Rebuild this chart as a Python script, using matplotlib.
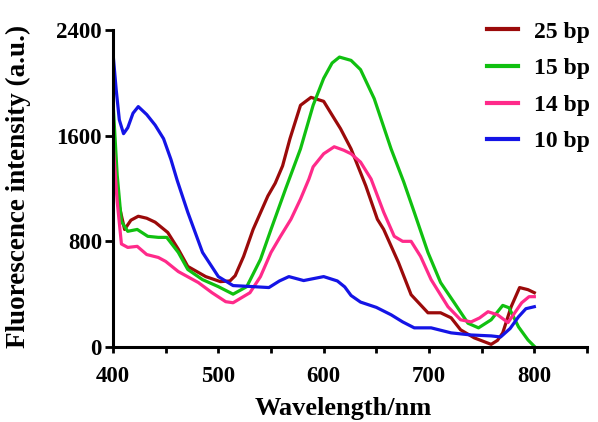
import matplotlib
matplotlib.use("Agg")
import matplotlib.pyplot as plt
from matplotlib.ticker import MultipleLocator

plt.rcParams['font.family'] = ['Liberation Serif', 'DejaVu Serif']
plt.rcParams['font.weight'] = 'bold'

# 25 bp
wl_25 = [400, 405, 411, 417, 424, 432, 440, 452, 462, 471, 488, 502, 511, 516, 524, 533, 547, 554,
         561, 568, 578, 588, 600, 610, 616, 626, 640, 651, 657, 671, 683, 699, 711, 721, 730, 743,
         759, 765, 770, 778, 786, 794, 800]
i_25 = [1450, 1100, 890, 960, 990, 975, 945, 867, 740, 610, 533, 495, 500, 540, 686, 890, 1143, 1240,
        1371, 1577, 1830, 1890, 1860, 1730, 1653, 1500, 1220, 967, 890, 640, 396, 259, 259, 221, 130, 69,
        20, 50, 107, 305, 450, 434, 411]

# 15 bp
wl_15 = [400, 404, 408, 414, 423, 433, 443, 451, 462, 471, 485, 500, 514, 527, 540, 550, 564, 578,
         590, 600, 608, 615, 626, 635, 648, 664, 676, 686, 699, 711, 724, 737, 747, 759, 770, 776,
         785, 794, 800]
i_15 = [1855, 1300, 950, 876, 890, 838, 830, 830, 716, 587, 510, 457, 400, 457, 663, 890, 1200, 1500,
        1830, 2034, 2150, 2195, 2170, 2100, 1880, 1500, 1250, 1020, 716, 488, 335, 180, 145, 206, 315, 297,
        152, 53, 5]

# 14 bp
wl_14 = [400, 404, 408, 414, 423, 432, 443, 450, 462, 481, 494, 507, 514, 530, 540, 550, 559, 569,
         578, 586, 590, 600, 610, 619, 626, 635, 645, 657, 667, 675, 683, 692, 702, 718, 730, 740,
         748, 756, 765, 775, 788, 795, 800]
i_14 = [1550, 1100, 780, 754, 762, 700, 678, 648, 571, 488, 411, 343, 335, 411, 533, 716, 838, 968,
        1120, 1272, 1364, 1463, 1516, 1490, 1463, 1400, 1272, 1020, 838, 800, 800, 686, 510, 305, 206, 190,
        220, 267, 244, 185, 335, 381, 381]

# 10 bp
wl_10 = [400, 403, 406, 410, 414, 419, 424, 432, 440, 448, 455, 461, 471, 485, 500, 514, 533, 548,
         558, 567, 581, 600, 613, 620, 626, 635, 650, 664, 675, 686, 702, 721, 740, 759, 768, 777,
         785, 792, 800]
i_10 = [2225, 1950, 1720, 1615, 1660, 1770, 1820, 1760, 1680, 1577, 1420, 1260, 1020, 716, 533, 465, 457, 450,
        500, 533, 503, 533, 500, 455, 390, 340, 300, 244, 190, 145, 145, 107, 91, 84, 76, 140,
        229, 290, 305]

labels = ["25 bp", "15 bp", "14 bp", "10 bp"]
colors = ["#9b0a0a", "#10c010", "#ff2a8a", "#1414e6"]
xticks = [400, 500, 600, 700, 800]
yticks = [0, 800, 1600, 2400]

fig = plt.figure(figsize=(5.98, 4.22), dpi=100)
ax = fig.add_axes([113/598, 1 - 347/422, (587 - 113)/598, (347 - 30)/422])

for wl, it, lab, c in zip([wl_25, wl_15, wl_14, wl_10], [i_25, i_15, i_14, i_10], labels, colors):
    ax.plot(wl, it, color=c, lw=2.3, label=lab, solid_joinstyle='round')

ax.set_xlim(400, 850)
ax.set_ylim(0, 2400)
ax.set_xticks(xticks)
ax.xaxis.set_minor_locator(MultipleLocator(50))
ax.set_yticks(yticks)

for s in ['top', 'right']:
    ax.spines[s].set_visible(False)
for s in ['left', 'bottom']:
    ax.spines[s].set_linewidth(2.2)

ax.tick_params(axis='both', which='both', direction='out', width=2.0, labelsize=16.5)
ax.tick_params(axis='x', which='major', length=4.5, pad=9)
ax.tick_params(axis='x', which='minor', length=4.5)
ax.tick_params(axis='y', which='major', length=6, pad=2)
for t in ax.get_xticklabels() + ax.get_yticklabels():
    t.set_fontweight('bold')

ax.set_xlabel("Wavelength/nm", fontsize=19, fontweight='bold')
ax.xaxis.set_label_coords(0.485, -0.158)
ax.set_ylabel("Fluorescence intensity (a.u.)", fontsize=19.5, fontweight='bold')
ax.yaxis.set_label_coords(-0.172, 0.505)

leg = ax.legend(loc='upper left', bbox_to_anchor=(487/598, 1 - 21/422), bbox_transform=fig.transFigure,
                frameon=False, fontsize=17, handlelength=1.3, handletextpad=0.7, labelspacing=0.64,
                borderpad=0, borderaxespad=0)
for line in leg.get_lines():
    line.set_linewidth(3)
for t in leg.get_texts():
    t.set_fontweight('bold')

fig.savefig("out.png", dpi=100)
